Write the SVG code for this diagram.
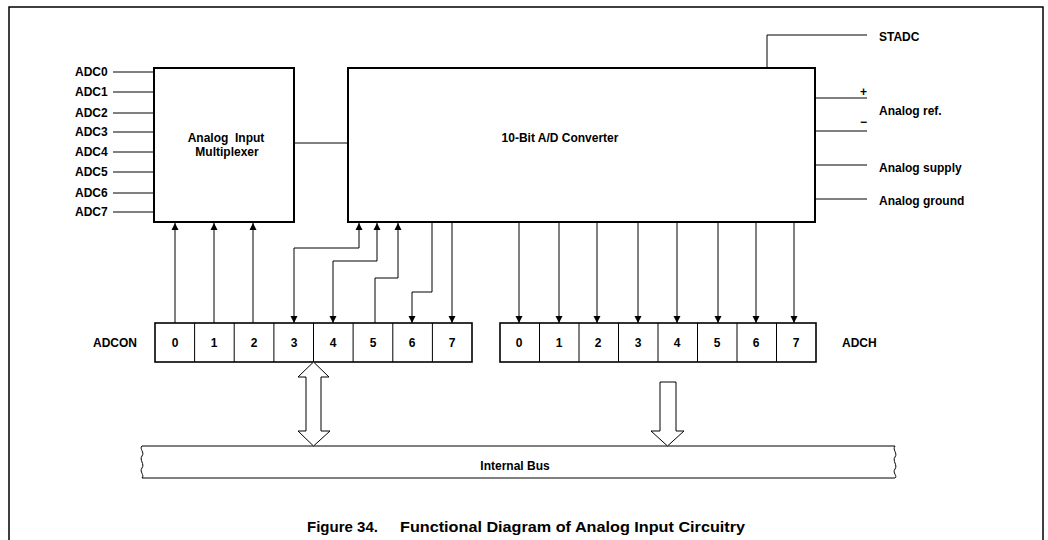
<svg xmlns="http://www.w3.org/2000/svg" width="1048" height="540" viewBox="0 0 1048 540">
<style>
text{font-family:"Liberation Sans",Arial,sans-serif;font-weight:bold;font-size:12px;fill:#000}
.box{fill:#fff;stroke:#000;stroke-width:2}
.cell{fill:#fff;stroke:#000;stroke-width:1.6}
.ln{fill:none;stroke:#000;stroke-width:1}
.hollow{fill:#fff;stroke:#000;stroke-width:1}
.c{text-anchor:middle}
.cap{font-size:14.5px}
</style>
<defs>
<marker id="ah" viewBox="0 0 10 10" refX="10" refY="5" markerWidth="7" markerHeight="9" markerUnits="userSpaceOnUse" orient="auto-start-reverse">
<path d="M0,0 L10,5 L0,10 Z" fill="#000"/>
</marker>
</defs>
<rect x="9" y="7" width="1034" height="560" fill="#fff" stroke="#000" stroke-width="1.5"/>

<g id="inputs">
<text x="75" y="76">ADC0</text>
<text x="75" y="96">ADC1</text>
<text x="75" y="117">ADC2</text>
<text x="75" y="136">ADC3</text>
<text x="75" y="156">ADC4</text>
<text x="75" y="176">ADC5</text>
<text x="75" y="197">ADC6</text>
<text x="75" y="216">ADC7</text>
</g>

<g id="mux">
<rect class="box" x="154" y="68" width="140" height="154"/>
<text class="c" x="226" y="142" xml:space="preserve">Analog  Input</text>
<text class="c" x="227" y="156">Multiplexer</text>
</g>

<g id="converter">
<rect class="box" x="348" y="68" width="467" height="154"/>
<text class="c" x="560" y="142">10-Bit A/D Converter</text>
</g>

<g id="right-labels">
<text x="879" y="41">STADC</text>
<text x="860" y="96">+</text>
<text x="860" y="126">−</text>
<text x="879" y="115">Analog ref.</text>
<text x="879" y="172">Analog supply</text>
<text x="879" y="205">Analog ground</text>
</g>

<g id="adcon">
<text x="93" y="347">ADCON</text>
<rect class="cell" x="155" y="323" width="317" height="39"/>
<path class="ln" d="M194.6,323V362M234.2,323V362M273.9,323V362M313.5,323V362M353.1,323V362M392.8,323V362M432.4,323V362" stroke-width="1.6"/>
<text class="c" x="175" y="347">0</text>
<text class="c" x="214" y="347">1</text>
<text class="c" x="254" y="347">2</text>
<text class="c" x="294" y="347">3</text>
<text class="c" x="333" y="347">4</text>
<text class="c" x="373" y="347">5</text>
<text class="c" x="412" y="347">6</text>
<text class="c" x="452" y="347">7</text>
</g>

<g id="adch">
<text x="842" y="347">ADCH</text>
<rect class="cell" x="500" y="323" width="316" height="39"/>
<path class="ln" d="M539.5,323V362M579,323V362M618.5,323V362M658,323V362M697.5,323V362M737,323V362M776.5,323V362" stroke-width="1.6"/>
<text class="c" x="519" y="347">0</text>
<text class="c" x="559" y="347">1</text>
<text class="c" x="598" y="347">2</text>
<text class="c" x="638" y="347">3</text>
<text class="c" x="677" y="347">4</text>
<text class="c" x="717" y="347">5</text>
<text class="c" x="756" y="347">6</text>
<text class="c" x="796" y="347">7</text>
</g>

<g id="bus">
<path class="ln" d="M142,446 H895 C892,450 898,453 895,457 C892,461 898,465 895,469 C892,473 898,476 895,478 H142 C145,475 139,472 142,468 C145,464 139,460 142,456 C145,452 139,449 142,446 Z" fill="#fff"/>
<text class="c" x="515" y="470">Internal Bus</text>
</g>

<g id="connectors">
<path class="ln" d="M113,72H154M113,92H154M113,113H154M113,132H154M113,152H154M113,172H154M113,193H154M113,212H154"/>
<path class="ln" d="M294,143H348"/>
<path class="ln" d="M767,68V35H867"/>
<path class="ln" d="M815,98H867M815,131H867M815,165H867M815,199H867"/>
<path class="ln" d="M175,323V223" marker-end="url(#ah)"/>
<path class="ln" d="M214,323V223" marker-end="url(#ah)"/>
<path class="ln" d="M253,323V223" marker-end="url(#ah)"/>
<path class="ln" d="M294,323V248H359V223" marker-start="url(#ah)" marker-end="url(#ah)"/>
<path class="ln" d="M333,323V261H377V223" marker-start="url(#ah)" marker-end="url(#ah)"/>
<path class="ln" d="M375,323V278H398V223" marker-end="url(#ah)"/>
<path class="ln" d="M432,223V292H412V323" marker-end="url(#ah)"/>
<path class="ln" d="M452,223V323" marker-end="url(#ah)"/>
<path class="ln" d="M519,223V323" marker-end="url(#ah)"/>
<path class="ln" d="M559,223V323" marker-end="url(#ah)"/>
<path class="ln" d="M597,223V323" marker-end="url(#ah)"/>
<path class="ln" d="M638,223V323" marker-end="url(#ah)"/>
<path class="ln" d="M677,223V323" marker-end="url(#ah)"/>
<path class="ln" d="M718,223V323" marker-end="url(#ah)"/>
<path class="ln" d="M756,223V323" marker-end="url(#ah)"/>
<path class="ln" d="M794,223V323" marker-end="url(#ah)"/>
<path class="hollow" d="M313.5,362 L329,377 L321,377 L321,431 L330,431 L313.5,446 L298,431 L306,431 L306,377 L298,377 Z"/>
<path class="hollow" d="M660,382 L676,382 L676,431 L684,431 L667.5,446 L651,431 L660,431 Z"/>
</g>

<g id="caption">
<text class="cap" x="307" y="532" textLength="71" lengthAdjust="spacingAndGlyphs">Figure 34.</text>
<text class="cap" x="400" y="532" textLength="345" lengthAdjust="spacingAndGlyphs">Functional Diagram of Analog Input Circuitry</text>
</g>
</svg>
